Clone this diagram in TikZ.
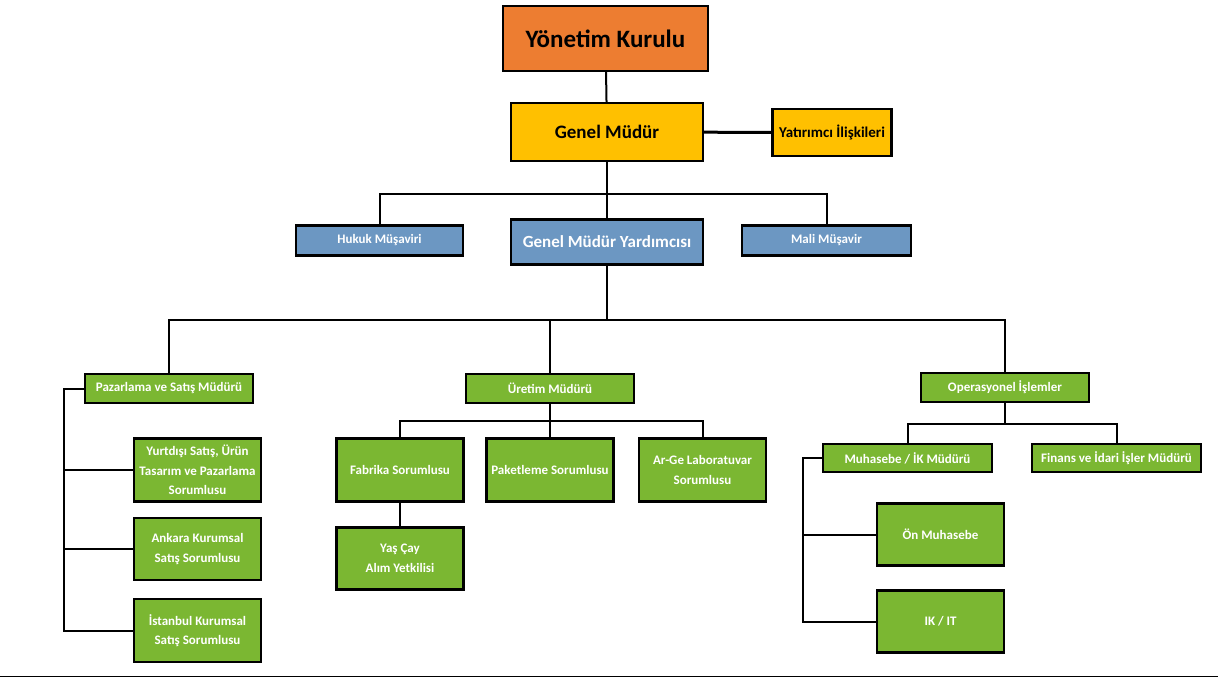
\documentclass[tikz,border=0pt]{standalone}
\usepackage{fontspec}
\setmainfont{Carlito}
\usetikzlibrary{positioning}
\definecolor{kurulorange}{RGB}{237,125,49}
\definecolor{mudursari}{RGB}{255,192,0}
\definecolor{musavirmavi}{RGB}{108,151,194}
\definecolor{birimyesil}{RGB}{123,183,50}
\tikzstyle{kurul}=[rectangle,draw=black,line width=2.2pt,fill=kurulorange,minimum width=205pt,minimum height=65pt,font=\fontsize{25}{30}\selectfont\bfseries]
\tikzstyle{mudur}=[rectangle,draw=black,line width=2.2pt,fill=mudursari,font=\bfseries]
\tikzstyle{musavir}=[rectangle,draw=black,line width=2.2pt,fill=musavirmavi,text=white,font=\bfseries]
\tikzstyle{birim}=[rectangle,draw=black,line width=2.2pt,fill=birimyesil,text=white,align=center,inner sep=1pt,font=\fontsize{13}{19.5}\selectfont\bfseries]
\tikzstyle{hat}=[line width=2pt]

\begin{document}
\begin{tikzpicture}[x=1pt,y=-1pt]
\useasboundingbox (0,0) rectangle (1218,678);
% ust yonetim
\node[kurul] at (605.5, 38.5) (yk) {Yönetim Kurulu};
\node[mudur, minimum width=192pt, minimum height=58pt, font=\fontsize{19}{23}\selectfont\bfseries] at (607, 132) (gm) {Genel Müdür};
\node[mudur, minimum width=119pt, minimum height=47pt, font=\fontsize{15}{18}\selectfont\bfseries] at (832, 132.5) (yi) {Yatırımcı İlişkileri};
\node[musavir, minimum width=167pt, minimum height=30pt, font=\fontsize{13}{16}\selectfont\bfseries] at (379.5, 240.5) (hm) {Hukuk Müşaviri};
\node[musavir, minimum width=192pt, minimum height=45pt, font=\fontsize{17}{20}\selectfont\bfseries] at (607, 242) (gmy) {Genel Müdür Yardımcısı};
\node[musavir, minimum width=169pt, minimum height=30pt, font=\fontsize{13}{16}\selectfont\bfseries] at (826.5, 240.5) (mm) {Mali Müşavir};
\coordinate (ustbus) at (607, 194);
\draw[hat] (yk) -- (gm);
\draw[line width=3pt] (gm) -- (yi);
\draw[hat] (gm) -- (gmy);
\draw[hat] (hm.north) |- (ustbus) -| (mm.north);
% mudurler
\node[birim, minimum width=168pt, minimum height=29pt] at (169, 388.5) (pz) {Pazarlama ve Satış Müdürü};
\node[birim, minimum width=168pt, minimum height=29pt] at (550, 388.5) (ur) {Üretim Müdürü};
\node[birim, minimum width=168pt, minimum height=29pt] at (1005, 387.5) (op) {Operasyonel İşlemler};
\coordinate (ortabus) at (607, 320);
\draw[hat] (gmy) -- (ortabus);
\draw[hat] (pz.north) |- (ortabus) -| (op.north);
\draw[hat] (ur.north) -- (ur.north |- ortabus);
% pazarlama
\node[birim, minimum width=127pt, minimum height=63pt] at (197.5, 470) (yd) {Yurtdışı Satış, Ürün\\Tasarım ve Pazarlama\\Sorumlusu};
\node[birim, minimum width=127pt, minimum height=62pt] at (197.5, 549) (an) {Ankara Kurumsal\\Satış Sorumlusu};
\node[birim, minimum width=127pt, minimum height=63pt] at (197.5, 630.5) (ist) {İstanbul Kurumsal\\Satış Sorumlusu};
\coordinate (pzsol) at (64, 388.5);
\draw[hat] (pz.west) -- (pzsol) |- (ist.west);
\draw[hat] (yd.west) -- (yd.west -| pzsol);
\draw[hat] (an.west) -- (an.west -| pzsol);
% uretim
\node[birim, minimum width=127pt, minimum height=63pt] at (400, 470) (fb) {Fabrika Sorumlusu};
\node[birim, minimum width=127pt, minimum height=63pt] at (550, 470) (pk) {Paketleme Sorumlusu};
\node[birim, minimum width=127pt, minimum height=63pt] at (702.5, 470) (ag) {Ar-Ge Laboratuvar\\Sorumlusu};
\node[birim, minimum width=127pt, minimum height=62pt] at (400, 558.5) (yc) {Yaş Çay\\Alım Yetkilisi};
\coordinate (urbus) at (550, 421);
\draw[hat] (ur) -- (pk);
\draw[hat] (fb.north) |- (urbus) -| (ag.north);
\draw[hat] (fb) -- (yc);
% operasyon
\node[birim, minimum width=169pt, minimum height=28pt] at (907.5, 458) (mh) {Muhasebe / İK Müdürü};
\node[birim, minimum width=169pt, minimum height=28pt] at (1116.5, 458) (fi) {Finans ve İdari İşler Müdürü};
\node[birim, minimum width=127pt, minimum height=62pt] at (940.5, 534.5) (on) {Ön Muhasebe};
\node[birim, minimum width=127pt, minimum height=62pt] at (940.5, 621.5) (ikit) {IK / IT};
\coordinate (opbus) at (1005, 424);
\draw[hat] (op) -- (opbus);
\draw[hat] (mh.north) |- (opbus) -| (fi.north);
\coordinate (mhsol) at (803, 458);
\draw[hat] (mh.west) -- (mhsol) |- (ikit.west);
\draw[hat] (on.west) -- (on.west -| mhsol);
% alt cizgi
\draw[line width=1.5pt] (0, 676.5) -- (1218, 676.5);
\end{tikzpicture}
\end{document}
